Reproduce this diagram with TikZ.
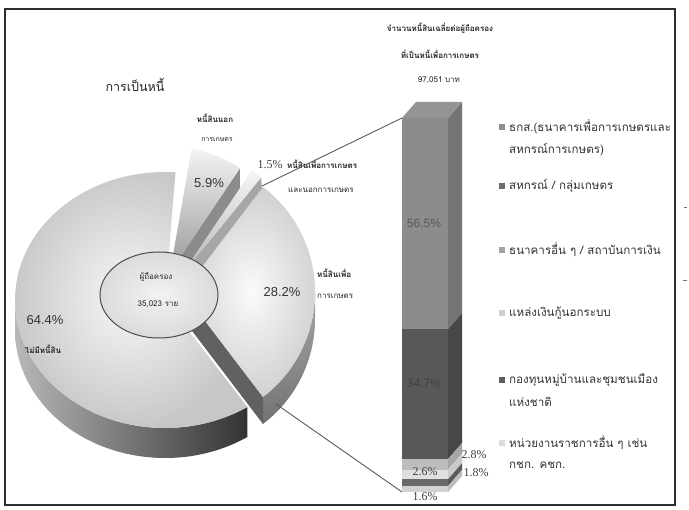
\documentclass[tikz,border=0pt]{standalone}
\usepackage{fontspec}
\usetikzlibrary{shapes.geometric}
\newfontfamily\thaifont[Script=Thai]{Loma}
\newfontfamily\numserif{Liberation Serif}
\newfontfamily\numsans{Liberation Sans}
\definecolor{framec}{HTML}{2E2E2E}
\definecolor{linec}{HTML}{5A5A5A}
\definecolor{segA}{HTML}{8C8C8C}\definecolor{segAs}{HTML}{747474}
\definecolor{segB}{HTML}{585858}\definecolor{segBs}{HTML}{474747}
\definecolor{segC}{HTML}{BDBDBD}\definecolor{segCs}{HTML}{A6A6A6}
\definecolor{segD}{HTML}{E0E0E0}\definecolor{segDs}{HTML}{CACACA}
\definecolor{segE}{HTML}{6A6A6A}\definecolor{segEs}{HTML}{5A5A5A}
\definecolor{segF}{HTML}{D2D2D2}\definecolor{segFs}{HTML}{BDBDBD}
\definecolor{legA}{HTML}{8E8E8E}
\definecolor{legB}{HTML}{6E6E6E}
\definecolor{legC}{HTML}{A4A4A4}
\definecolor{legD}{HTML}{CFCFCF}
\definecolor{legE}{HTML}{5E5E5E}
\definecolor{legF}{HTML}{DCDCDC}
\begin{document}
\begin{tikzpicture}[x=1pt,y=-1pt,
  thai/.style={font=\thaifont\fontsize{8}{10}\selectfont, text=black!85, inner sep=0pt},
  thaib/.style={font=\thaifont\bfseries\fontsize{8}{10}\selectfont, text=black!85, inner sep=0pt},
  legtext/.style={font=\thaifont\fontsize{11.6}{13}\selectfont, text=black!80, anchor=west, inner sep=0pt},
  legbox/.style={minimum size=6.5pt, inner sep=0pt, draw=none},
  pctsans/.style={font=\numsans\fontsize{13}{14}\selectfont, text=black!80, inner sep=0pt},
  pctserif/.style={font=\numserif\fontsize{12}{13}\selectfont, text=black!75, inner sep=0pt},
  conn/.style={draw=linec, line width=0.9pt},
]
\useasboundingbox (0,0) rectangle (689,510);
\fill[white] (0,0) rectangle (689,510);

% ---------------- pie: 64.4% slice ----------------
\shade[left color=black!28, right color=black!80]
  (15,300) arc[start angle=180, end angle=56.7, x radius=150, y radius=128]
  -- ++(0,30) arc[start angle=56.7, end angle=180, x radius=150, y radius=128] -- cycle;
\shade[inner color=black!3, outer color=black!22]
  (165,300) -- (175.5,172.3) arc[start angle=-86, end angle=-303.3, x radius=150, y radius=128] -- cycle;

% ---------------- 5.9% slice ----------------
\fill[black!45] (170,272) -- (239.9,168.4) -- (239.9,195.4) -- (170,299) -- cycle;
\shade[top color=black!5, bottom color=black!40]
  (170,272) -- (191.7,148.9) arc[start angle=-80, end angle=-56, radius=125] -- cycle;

% ---------------- 1.5% slice ----------------
\fill[black!35] (178,280) -- (261.1,177.4) -- (262,190) -- (178,302) -- cycle;
\shade[top color=black!4, bottom color=black!30]
  (178,280) -- (251.8,170.6) arc[start angle=-56, end angle=-51, radius=132] -- cycle;

% ---------------- 28.2% slice ----------------
\shade[top color=black!35, bottom color=black!55]
  (315,292) arc[start angle=0, end angle=52.7, radius=132]
  -- ++(0,27) arc[start angle=52.7, end angle=0, radius=132] -- cycle;
\fill[black!62] (183,292) -- (263,397) -- (263,424) -- (183,319) -- cycle;
\shade[inner color=black!2, outer color=black!18]
  (183,292) -- (263,187) arc[start angle=-52.7, end angle=52.7, radius=132] -- cycle;

% ---------------- centre ----------------
\node[ellipse, minimum width=118pt, minimum height=86pt, draw=black!70, line width=1pt,
      inner color=black!5, outer color=black!14, inner sep=0pt] (hole) at (159,295) {};
\node[thai] (holeA) at (156,277) {ผู้ถือครอง};
\node[thai] (holeB) at (158,304) {35,023 ราย};

% ---------------- pie labels ----------------
\node[font=\thaifont\fontsize{12.5}{14}\selectfont, text=black!85, inner sep=0pt] (title) at (135,85) {การเป็นหนี้};
\node[thaib] (l59a) at (215,118) {หนี้สินนอก};
\node[thai, font=\thaifont\fontsize{7}{9}\selectfont] (l59b) at (217,140) {การเกษตร};
\node[pctsans] (p59) at (209,183) {5.9\%};
\node[pctserif] (p15) at (270,165) {1.5\%};
\node[thaib, anchor=west] (l15a) at (287,164) {หนี้สินเพื่อการเกษตร};
\node[thai, anchor=west] (l15b) at (288,190) {และนอกการเกษตร};
\node[pctsans] (p28) at (282,292) {28.2\%};
\node[thaib, anchor=west] (l28a) at (317,273) {หนี้สินเพื่อ};
\node[thai, anchor=west] (l28b) at (317,296) {การเกษตร};
\node[pctsans] (p64) at (45,320) {64.4\%};
\node[thaib] (l64) at (43,349) {ไม่มีหนี้สิน};

% ---------------- bar ----------------
\foreach \ya/\yb/\cf/\cs in {118/329.3/segA/segAs, 329.3/459.1/segB/segBs, 459.1/469.6/segC/segCs,
    469.6/479.3/segD/segDs, 479.3/486/segE/segEs, 486/492/segF/segFs}{
  \fill[\cf] (402,\ya) rectangle (448,\yb);
  \fill[\cs] (448,\ya) -- (462,\ya-16) -- (462,\yb-16) -- (448,\yb) -- cycle;
}
\fill[black!42] (402,118) -- (416,102) -- (462,102) -- (448,118) -- cycle;
\coordinate (bartl) at (402,118);
\coordinate (barbl) at (402,492);

\node[font=\numsans\fontsize{12}{13}\selectfont, text=black!65, inner sep=0pt] (b565) at (424,223) {56.5\%};
\node[font=\numsans\fontsize{12}{13}\selectfont, text=black!75, inner sep=0pt] (b347) at (424,383) {34.7\%};
\node[pctserif] (b28) at (474,455) {2.8\%};
\node[pctserif] (b26) at (425,472) {2.6\%};
\node[pctserif] (b18) at (476,473) {1.8\%};
\node[pctserif] (b16) at (425,497) {1.6\%};

% bar title
\node[thaib] (bt1) at (440,28) {จำนวนหนี้สินเฉลี่ยต่อผู้ถือครอง};
\node[thaib] (bt2) at (440,54) {ที่เป็นหนี้เพื่อการเกษตร};
\node[thai] (bt3) at (439,80) {97,051 บาท};

% ---------------- connectors ----------------
\coordinate (s15) at (262,186);
\coordinate (s28) at (276,404);
\draw[conn] (s15) -- (bartl);
\draw[conn] (s28) -- (barbl);

% ---------------- legend ----------------
\node[legbox, fill=legA] (k1) at (502,127) {};
\node[legtext] (t1) at (509,127) {ธกส.(ธนาคารเพื่อการเกษตรและ};
\node[legtext] (t1b) at (509,150) {สหกรณ์การเกษตร)};
\node[legbox, fill=legB] (k2) at (502,186) {};
\node[legtext] (t2) at (509,186) {สหกรณ์ / กลุ่มเกษตร};
\node[legbox, fill=legC] (k3) at (502,250) {};
\node[legtext] (t3) at (509,250) {ธนาคารอื่น ๆ / สถาบันการเงิน};
\node[legbox, fill=legD] (k4) at (502,313) {};
\node[legtext] (t4) at (509,313) {แหล่งเงินกู้นอกระบบ};
\node[legbox, fill=legE] (k5) at (502,380) {};
\node[legtext] (t5) at (509,380) {กองทุนหมู่บ้านและชุมชนเมือง};
\node[legtext] (t5b) at (509,402) {แห่งชาติ};
\node[legbox, fill=legF] (k6) at (502,443) {};
\node[legtext] (t6) at (509,443) {หน่วยงานราชการอื่น ๆ เช่น};
\node[legtext] (t6b) at (509,465) {กชก. คชก.};

% ---------------- frame ----------------
\draw[framec, line width=2.4pt] (5,9) rectangle (675,505);
\draw[black!55, line width=1pt] (684,208) -- (687,208);
\draw[black!55, line width=1pt] (683,281) -- (687,281);
\end{tikzpicture}
\end{document}
